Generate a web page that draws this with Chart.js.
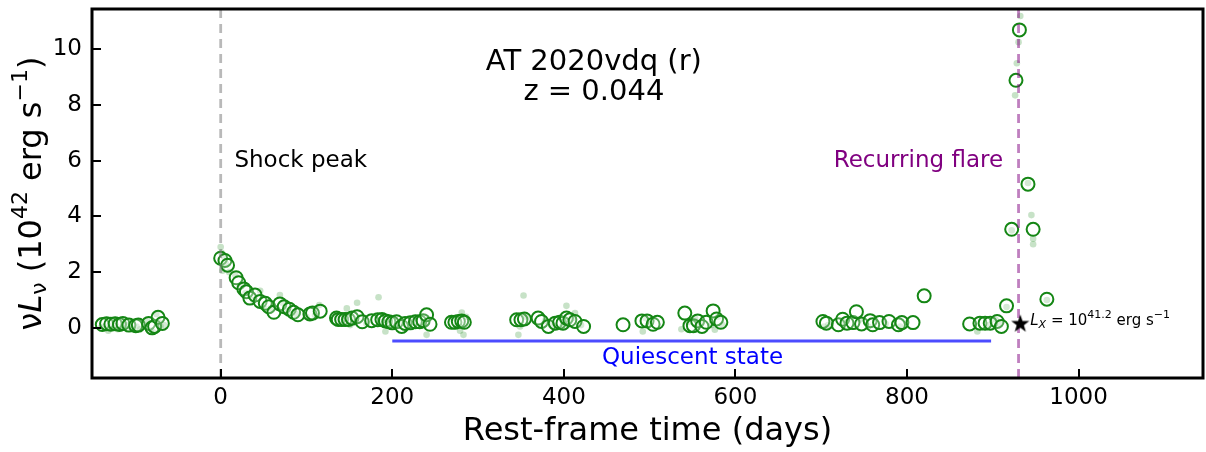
<!DOCTYPE html>
<html>
<head>
<meta charset="utf-8">
<script src="https://cdn.jsdelivr.net/npm/chart.js@4/dist/chart.umd.min.js"></script>
<style>
  html, body { margin: 0; padding: 0; background: #fff; }
  canvas { display: block; }
</style>
</head>
<body>
<canvas id="lc" width="1206" height="452"></canvas>
<script>
// binned r-band light curve (open circles)
const binDays = [-138, -133, -128, -123, -118, -114, -107, -99, -96,
  -84, -80, -77, -73, -68,
  0, 5, 8, 18, 21, 27, 30, 34, 40, 46, 52, 56, 62, 69, 74, 80, 85, 90, 104, 107, 116,
  135, 137, 141, 145, 149, 153, 159, 165, 176, 183, 188, 192, 196, 200, 205, 211, 215, 221, 227, 232, 236, 240, 244,
  269, 273, 277, 281, 284,
  345, 350, 354,
  370, 374, 382, 390, 395, 399, 403, 407, 413, 423,
  469, 491, 497, 504, 509,
  541, 547, 551, 556, 561, 566, 574, 578, 583,
  702, 706, 720, 725, 730, 737, 741, 747, 757, 760, 768, 779, 790, 794, 807, 820,
  873, 885, 891, 897, 905, 910, 916, 922, 927, 931, 941, 947, 963];
const binLum = [0.12, 0.15, 0.13, 0.15, 0.12, 0.16, 0.10, 0.08, 0.10,
  0.16, 0.00, 0.05, 0.38, 0.16,
  2.50, 2.42, 2.25, 1.80, 1.62, 1.40, 1.30, 1.07, 1.18, 0.95, 0.88, 0.76, 0.56, 0.86, 0.76, 0.67, 0.56, 0.47, 0.50, 0.53, 0.60,
  0.35, 0.30, 0.30, 0.30, 0.30, 0.35, 0.40, 0.22, 0.26, 0.29, 0.30, 0.25, 0.22, 0.18, 0.22, 0.05, 0.16, 0.18, 0.22, 0.22, 0.26, 0.47, 0.13,
  0.20, 0.20, 0.23, 0.25, 0.20,
  0.29, 0.29, 0.32,
  0.35, 0.23, 0.05, 0.17, 0.20, 0.17, 0.35, 0.29, 0.23, 0.05,
  0.11, 0.25, 0.25, 0.13, 0.20,
  0.53, 0.08, 0.08, 0.25, 0.05, 0.20, 0.61, 0.32, 0.20,
  0.23, 0.17, 0.11, 0.31, 0.17, 0.19, 0.58, 0.14, 0.26, 0.11, 0.19, 0.23, 0.11, 0.19, 0.19, 1.15,
  0.14, 0.17, 0.17, 0.17, 0.23, 0.05, 0.79, 3.54, 8.89, 10.70, 5.16, 3.54, 1.03];

// individual epochs (faint dots)
const rawDays = [-140, -136, -131, -126, -120, -115, -110, -104, -98, -94, -86, -82, -79, -75, -72, -70, -66,
  0, 1, 2, 4, 6, 10, 17, 24, 29, 38, 46, 50, 58, 69, 72, 78, 88, 100, 110, 115,
  138, 143, 147, 151, 156, 159, 170, 184, 186, 192, 198, 208, 218, 226, 235, 240,
  270, 275, 279, 281, 283, 286, 347, 349, 353, 356, 378, 385, 398, 403, 410, 413, 420,
  492, 495, 500, 537, 545, 553, 560, 572, 576, 580, 585,
  703, 708, 727, 745, 755, 775, 792, 882, 895, 903, 908,
  932, 930, 928, 926, 941, 945, 947, 947, 922, 916, 963];
const rawLum = [0.00, 0.05, -0.10, 0.08, -0.05, 0.02, 0.10, -0.02, 0.05, -0.05, 0.25, -0.10, -0.15, 0.50, 0.20, 0.05, 0.10,
  2.90, 2.70, 2.05, 2.55, 2.30, 2.00, 1.90, 1.50, 1.25, 1.00, 1.33, 0.75, 0.70, 1.18, 0.90, 0.60, 0.50, 0.40, 0.45, 0.82,
  0.20, 0.15, 0.70, 0.10, 0.20, 0.90, 0.15, 1.10, 0.20, -0.13, 0.10, 0.20, 0.10, 0.30, 0.10, -0.25,
  0.35, 0.05, -0.10, 0.55, -0.25, 0.40, -0.25, 0.05, 1.16, 0.40, 0.25, 0.10, 0.05, 0.79, 0.35, 0.53, 0.10,
  -0.13, 0.35, 0.15, -0.05, 0.20, 0.35, 0.15, 0.10, -0.07, 0.40, 0.10,
  0.05, 0.10, 0.20, 0.30, 0.05, 0.15, 0.05, -0.13, 0.10, 0.30, 0.15,
  11.20, 10.26, 9.50, 8.35, 5.20, 4.05, 3.20, 3.00, 3.50, 0.75, 1.00];

const xTicks = [0, 200, 400, 600, 800, 1000];
const yTicks = [0, 2, 4, 6, 8, 10];
const xRange = [-150, 1145];
const yRange = [-1.8, 11.45];

const shockDay = 0;
const flareDay = 930;
const quiescent = [200, 898];
const quiescentLevel = -0.47;
const xrayDay = 932;
const xrayLogL = 41.2;

function pts(xs, ys) { return xs.map((x, i) => ({ x: x, y: ys[i] })); }

// filled star marker
const starImg = document.createElement('canvas');
starImg.width = 20; starImg.height = 20;
(function () {
  const c = starImg.getContext('2d');
  c.fillStyle = '#000';
  c.beginPath();
  for (let i = 0; i < 10; i++) {
    const r = i % 2 === 0 ? 9.5 : 3.8;
    const a = -Math.PI / 2 + i * Math.PI / 5;
    const px = 10 + r * Math.cos(a), py = 10.5 + r * Math.sin(a);
    if (i === 0) c.moveTo(px, py); else c.lineTo(px, py);
  }
  c.closePath();
  c.fill();
})();

const FONT = "'DejaVu Sans', sans-serif";

// draws a run of text pieces with sub/superscripts, centred on (x, y)
function richText(ctx, parts, x, y, align) {
  let w = 0;
  parts.forEach(p => { ctx.font = p.f; p.w = ctx.measureText(p.t).width; w += p.w; });
  let cx = align === 'left' ? x : x - w / 2;
  ctx.textBaseline = 'middle';
  ctx.textAlign = 'left';
  parts.forEach(p => {
    ctx.font = p.f;
    ctx.fillText(p.t, cx, y + (p.dy || 0));
    cx += p.w;
  });
}

const decor = {
  id: 'decor',
  afterDatasetsDraw(chart) {
    const ctx = chart.ctx;
    const xs = chart.scales.x, ys = chart.scales.y;
    const a = chart.chartArea;
    ctx.save();

    // inward tick marks
    ctx.strokeStyle = '#000';
    ctx.lineWidth = 2;
    xTicks.forEach(v => {
      const px = Math.round(xs.getPixelForValue(v));
      ctx.beginPath(); ctx.moveTo(px, a.bottom); ctx.lineTo(px, a.bottom - 9); ctx.stroke();
    });
    yTicks.forEach(v => {
      const py = Math.round(ys.getPixelForValue(v));
      ctx.beginPath(); ctx.moveTo(a.left, py); ctx.lineTo(a.left + 9, py); ctx.stroke();
    });

    // frame
    ctx.lineWidth = 3;
    ctx.strokeRect(a.left, a.top, a.right - a.left, a.bottom - a.top);

    // object name and redshift
    ctx.fillStyle = '#000';
    ctx.textAlign = 'center';
    ctx.textBaseline = 'middle';
    ctx.font = '29px ' + FONT;
    ctx.fillText('AT 2020vdq (r)', xs.getPixelForValue(435), ys.getPixelForValue(9.53));
    ctx.fillText('z = 0.044', xs.getPixelForValue(435), ys.getPixelForValue(8.45));

    // annotations
    ctx.font = '23px ' + FONT;
    ctx.textAlign = 'left';
    ctx.fillText('Shock peak', xs.getPixelForValue(16), ys.getPixelForValue(6.0));
    ctx.fillStyle = '#800080';
    ctx.textAlign = 'right';
    ctx.fillText('Recurring flare', xs.getPixelForValue(912), ys.getPixelForValue(6.0));
    ctx.fillStyle = '#0000ff';
    ctx.textAlign = 'center';
    ctx.fillText('Quiescent state', xs.getPixelForValue(550), ys.getPixelForValue(-1.08));

    // X-ray luminosity label
    ctx.fillStyle = '#000';
    const big = '15px ' + FONT, sm = '11px ' + FONT;
    richText(ctx, [
      { t: 'L', f: 'italic ' + big },
      { t: 'X', f: 'italic ' + sm, dy: 4 },
      { t: ' = 10', f: big },
      { t: String(xrayLogL), f: sm, dy: -6 },
      { t: ' erg s', f: big },
      { t: '\u22121', f: sm, dy: -6 }
    ], xs.getPixelForValue(xrayDay) + 10, ys.getPixelForValue(0.25), 'left');

    // axis titles
    ctx.textAlign = 'center';
    ctx.textBaseline = 'middle';
    ctx.font = '32px ' + FONT;
    ctx.fillText('Rest-frame time (days)', (a.left + a.right) / 2, 432);

    ctx.save();
    ctx.translate(33, (a.top + a.bottom) / 2);
    ctx.rotate(-Math.PI / 2);
    const L = '32px ' + FONT, S = '22px ' + FONT;
    richText(ctx, [
      { t: '\u03bd', f: L },
      { t: 'L', f: 'italic ' + L },
      { t: '\u03bd', f: S, dy: 7 },
      { t: ' (10', f: L },
      { t: '42', f: S, dy: -12 },
      { t: ' erg s', f: L },
      { t: '\u22121', f: S, dy: -12 },
      { t: ')', f: L }
    ], 0, 0, 'center');
    ctx.restore();

    ctx.restore();
  }
};

new Chart(document.getElementById('lc'), {
  type: 'scatter',
  data: {
    datasets: [
      {
        label: 'epochs',
        data: pts(rawDays, rawLum),
        pointRadius: 3.3,
        pointBorderWidth: 0,
        backgroundColor: 'rgba(30,140,30,0.25)',
        order: 5
      },
      {
        label: 'binned',
        data: pts(binDays, binLum),
        pointRadius: 6.5,
        pointBorderWidth: 2,
        borderColor: '#148614',
        backgroundColor: 'rgba(255,255,255,0.25)',
        order: 4
      },
      {
        type: 'line',
        label: 'shock',
        data: [{ x: shockDay, y: yRange[0] }, { x: shockDay, y: yRange[1] }],
        borderColor: 'rgba(128,128,128,0.55)',
        borderWidth: 2.8,
        borderDash: [9, 6],
        pointRadius: 0,
        order: 3
      },
      {
        type: 'line',
        label: 'flare',
        data: [{ x: flareDay, y: yRange[0] }, { x: flareDay, y: yRange[1] }],
        borderColor: 'rgba(128,0,128,0.5)',
        borderWidth: 2.8,
        borderDash: [9, 6],
        pointRadius: 0,
        order: 3
      },
      {
        type: 'line',
        label: 'quiescent',
        data: [{ x: quiescent[0], y: quiescentLevel }, { x: quiescent[1], y: quiescentLevel }],
        borderColor: 'rgba(0,0,255,0.7)',
        borderWidth: 3,
        pointRadius: 0,
        order: 2
      },
      {
        label: 'xray',
        data: [{ x: xrayDay, y: Math.pow(10, xrayLogL - 42) }],
        pointStyle: starImg,
        order: 1
      }
    ]
  },
  options: {
    responsive: false,
    devicePixelRatio: 1,
    animation: false,
    layout: { autoPadding: false, padding: { top: 9, right: 3, left: 0, bottom: 0 } },
    plugins: { legend: { display: false }, tooltip: { enabled: false } },
    scales: {
      x: {
        type: 'linear',
        min: xRange[0],
        max: xRange[1],
        afterBuildTicks: s => { s.ticks = xTicks.map(v => ({ value: v })); },
        afterFit: s => { s.height = 74; s.paddingLeft = 0; s.paddingRight = 0; s.paddingTop = 0; s.paddingBottom = 0; },
        grid: { display: false, drawTicks: false },
        border: { display: false },
        ticks: { font: { family: FONT, size: 23 }, color: '#000', padding: 6, maxRotation: 0, callback: v => String(v) }
      },
      y: {
        type: 'linear',
        min: yRange[0],
        max: yRange[1],
        afterBuildTicks: s => { s.ticks = yTicks.map(v => ({ value: v })); },
        afterFit: s => { s.width = 92; s.paddingTop = 0; s.paddingBottom = 0; s.paddingLeft = 0; s.paddingRight = 0; },
        grid: { display: false, drawTicks: false },
        border: { display: false },
        ticks: { font: { family: FONT, size: 23 }, color: '#000', padding: 10, callback: v => String(v) }
      }
    }
  },
  plugins: [decor]
});
</script>
</body>
</html>
